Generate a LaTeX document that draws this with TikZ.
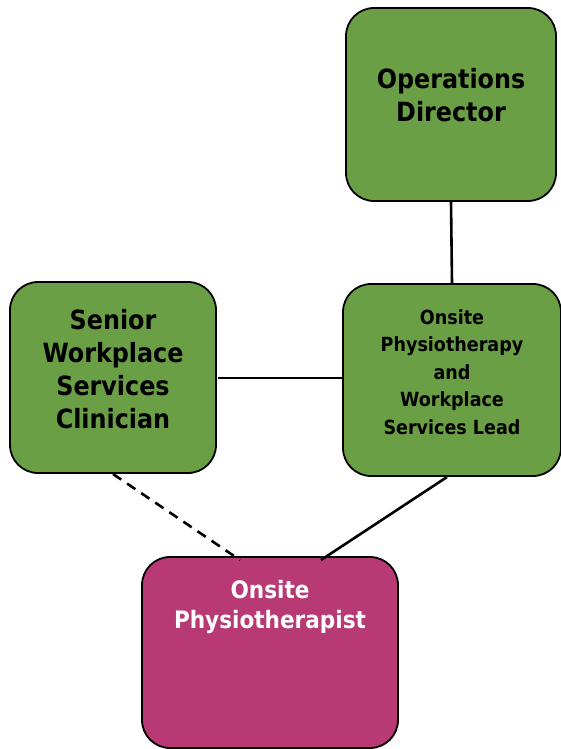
\documentclass[tikz,border=0pt]{standalone}
\usepackage{fontspec}
\setmainfont{DejaVu Sans Condensed}
\usetikzlibrary{arrows}
\usetikzlibrary{calc}

\definecolor{boxgreen}{HTML}{6A9F45}
\definecolor{boxpink}{HTML}{B83A75}

\begin{document}
\begin{tikzpicture}[x=1pt,y=-1pt,
    post/.style={draw=black,line width=1.8pt,rounded corners=28pt,fill=boxgreen},
    label text/.style={align=center,font=\bfseries\fontsize{26.5}{33}\selectfont}]
    \useasboundingbox (0,0) rectangle (561,749);

    \node[post,minimum width=210pt,minimum height=193pt] (ops) at (451,104.5) {};
    \node[post,minimum width=206pt,minimum height=191pt] (sen) at (113,377.5) {};
    \node[post,minimum width=218pt,minimum height=192pt] (lead) at (452,380) {};
    \node[post,fill=boxpink,minimum width=256pt,minimum height=191pt] (phy) at (270,652.5) {};

    \node[label text] (ops-t) at (451,95) {Operations\\Director};
    \node[label text] (sen-t) at (113,369) {Senior\\Workplace\\Services\\Clinician};
    \node[label text,font=\bfseries\fontsize{19.5}{27.5}\selectfont] (lead-t) at (452,372)
      {Onsite\\Physiotherapy\\and\\Workplace\\Services Lead};
    \node[label text,text=white,font=\bfseries\fontsize{24}{30}\selectfont] (phy-t) at (270,607)
      {Onsite\\Physiotherapist};

    \coordinate (sen-b) at (113,474);
    \coordinate (phy-l) at (240,560);
    \coordinate (lead-b) at (447,477);
    \coordinate (phy-r) at (321,560);
    \coordinate (sen-r) at (218,378);

    \path[line width=2.6pt] (ops.south) edge (lead.north);
    \path[line width=2.6pt] (sen-r) edge (sen-r -| lead.west);
    \path[line width=2.6pt] (lead-b) edge (phy-r);
    \path[dashed,line width=2.6pt,dash pattern=on 10pt off 7pt] (sen-b) edge (phy-l);
\end{tikzpicture}
\end{document}
